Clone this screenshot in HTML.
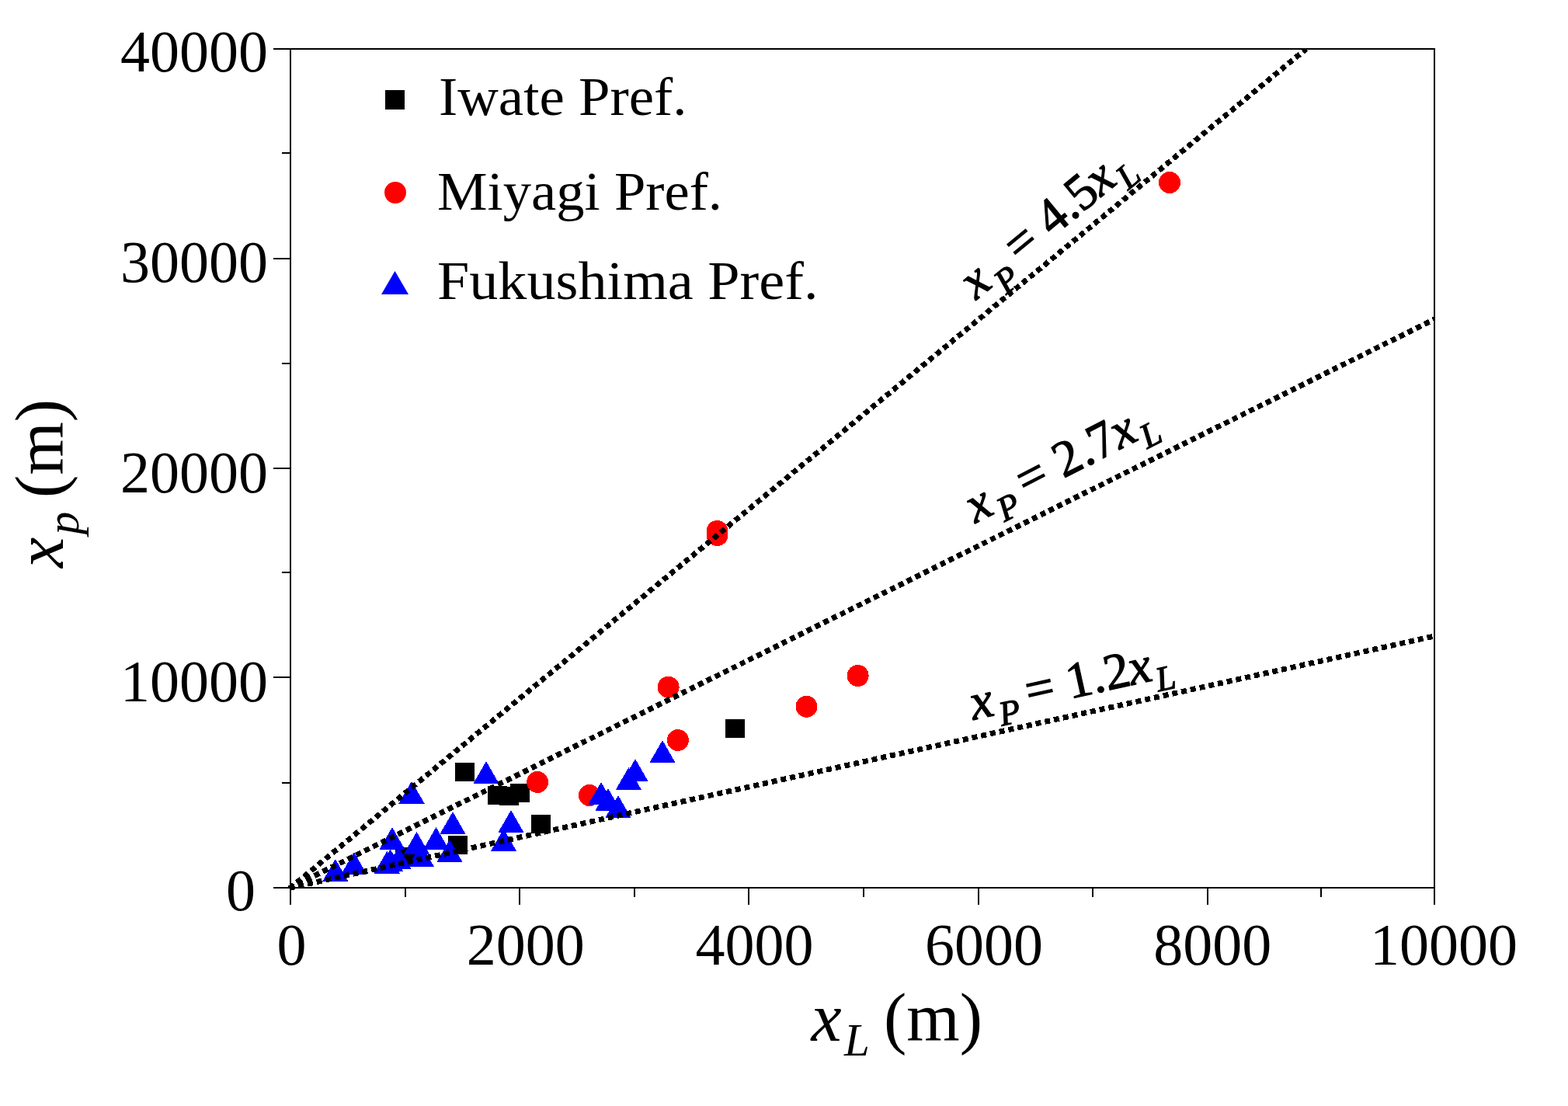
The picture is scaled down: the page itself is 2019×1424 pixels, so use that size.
<!DOCTYPE html>
<html><head><meta charset="utf-8"><title>x_p vs x_L</title>
<style>html,body{margin:0;padding:0;background:#fff;overflow:hidden;} svg{display:block;}</style></head>
<body><svg width="2019" height="1424" viewBox="0 0 2019 1424">
<rect width="2019" height="1424" fill="#fff"/>
<g fill="#000" shape-rendering="crispEdges"><rect x="586.00" y="982.00" width="25.0" height="24.0"/><rect x="628.00" y="1012.00" width="25.0" height="24.0"/><rect x="642.90" y="1013.00" width="25.0" height="24.0"/><rect x="656.50" y="1009.00" width="25.0" height="24.0"/><rect x="683.50" y="1049.00" width="25.0" height="24.0"/><rect x="577.00" y="1076.40" width="25.0" height="24.0"/><rect x="934.00" y="926.40" width="25.0" height="24.0"/><rect x="509.00" y="1091.00" width="25.0" height="24.0"/></g>
<g fill="#ff0000" shape-rendering="crispEdges"><circle cx="1506.00" cy="235.00" r="14.0"/><circle cx="923.50" cy="684.00" r="14.0"/><circle cx="923.50" cy="689.00" r="14.0"/><circle cx="860.60" cy="884.80" r="14.0"/><circle cx="872.80" cy="953.00" r="14.0"/><circle cx="1104.60" cy="870.00" r="14.0"/><circle cx="1038.50" cy="909.80" r="14.0"/><circle cx="692.10" cy="1007.00" r="14.0"/><circle cx="759.00" cy="1024.00" r="14.0"/></g>
<g fill="#0000ff" shape-rendering="crispEdges"><polygon points="431.80,1106.00 448.45,1135.00 415.15,1135.00"/><polygon points="455.80,1097.00 472.45,1126.00 439.15,1126.00"/><polygon points="498.30,1095.70 514.95,1124.70 481.65,1124.70"/><polygon points="502.50,1093.10 519.15,1122.10 485.85,1122.10"/><polygon points="513.30,1090.30 529.95,1119.30 496.65,1119.30"/><polygon points="505.00,1065.00 521.65,1094.00 488.35,1094.00"/><polygon points="530.00,1005.70 546.65,1034.70 513.35,1034.70"/><polygon points="536.50,1071.00 553.15,1100.00 519.85,1100.00"/><polygon points="542.20,1086.80 558.85,1115.80 525.55,1115.80"/><polygon points="561.50,1065.00 578.15,1094.00 544.85,1094.00"/><polygon points="583.00,1045.00 599.65,1074.00 566.35,1074.00"/><polygon points="579.00,1081.00 595.65,1110.00 562.35,1110.00"/><polygon points="626.00,980.00 642.65,1009.00 609.35,1009.00"/><polygon points="658.00,1043.00 674.65,1072.00 641.35,1072.00"/><polygon points="648.50,1067.00 665.15,1096.00 631.85,1096.00"/><polygon points="774.00,1007.00 790.65,1036.00 757.35,1036.00"/><polygon points="783.00,1015.00 799.65,1044.00 766.35,1044.00"/><polygon points="796.00,1024.00 812.65,1053.00 779.35,1053.00"/><polygon points="818.00,977.00 834.65,1006.00 801.35,1006.00"/><polygon points="809.40,988.00 826.05,1017.00 792.75,1017.00"/><polygon points="853.00,953.00 869.65,982.00 836.35,982.00"/></g>
<defs><clipPath id="cl"><rect x="0" y="63" width="2019" height="1361"/></clipPath></defs><g clip-path="url(#cl)" shape-rendering="crispEdges">
<line x1="372.84" y1="1143.96" x2="1681.76" y2="63.00" stroke="#000" stroke-width="7.0" stroke-dasharray="7 5"/>
<line x1="372.66" y1="1143.67" x2="1847.00" y2="411.03" stroke="#000" stroke-width="7.0" stroke-dasharray="7 5"/>
<line x1="372.54" y1="1143.32" x2="1847.00" y2="819.00" stroke="#000" stroke-width="7.0" stroke-dasharray="7 5"/>
</g>
<rect x="374.0" y="63.0" width="1473.0" height="1080.0" fill="none" stroke="#000" stroke-width="2"/>
<path d="M352.0,1143H374.0M363.0,1008H374.0M352.0,872H374.0M363.0,737H374.0M352.0,603H374.0M363.0,468H374.0M352.0,333H374.0M363.0,197H374.0M352.0,63H374.0M374,1143.0V1165.0M522,1143.0V1155.0M669,1143.0V1165.0M817,1143.0V1155.0M964,1143.0V1165.0M1112,1143.0V1155.0M1260,1143.0V1165.0M1407,1143.0V1155.0M1555,1143.0V1165.0M1701,1143.0V1155.0M1847,1143.0V1165.0" stroke="#000" stroke-width="2" fill="none"/>
<text x="345" y="92.4" text-anchor="end" style="font-family:'Liberation Serif', 'Times New Roman', serif;font-size:76px">40000</text>
<text x="345" y="363.4" text-anchor="end" style="font-family:'Liberation Serif', 'Times New Roman', serif;font-size:76px">30000</text>
<text x="345" y="633.6" text-anchor="end" style="font-family:'Liberation Serif', 'Times New Roman', serif;font-size:76px">20000</text>
<text x="345" y="902.9" text-anchor="end" style="font-family:'Liberation Serif', 'Times New Roman', serif;font-size:76px">10000</text>
<text x="329" y="1172.4" text-anchor="end" style="font-family:'Liberation Serif', 'Times New Roman', serif;font-size:76px">0</text>
<text x="375.6" y="1241.5" text-anchor="middle" style="font-family:'Liberation Serif', 'Times New Roman', serif;font-size:76px">0</text>
<text x="676.8" y="1241.5" text-anchor="middle" style="font-family:'Liberation Serif', 'Times New Roman', serif;font-size:76px">2000</text>
<text x="971.5" y="1241.5" text-anchor="middle" style="font-family:'Liberation Serif', 'Times New Roman', serif;font-size:76px">4000</text>
<text x="1266.9" y="1241.5" text-anchor="middle" style="font-family:'Liberation Serif', 'Times New Roman', serif;font-size:76px">6000</text>
<text x="1561.3" y="1241.5" text-anchor="middle" style="font-family:'Liberation Serif', 'Times New Roman', serif;font-size:76px">8000</text>
<text x="1859" y="1241.5" text-anchor="middle" style="font-family:'Liberation Serif', 'Times New Roman', serif;font-size:76px">10000</text>
<text style="font-family:'Liberation Serif', 'Times New Roman', serif;font-size:88px"><tspan x="1044.4" y="1339.6" font-style="italic">x</tspan><tspan x="1087" y="1358.9" font-size="59" font-style="italic">L</tspan><tspan x="1138" y="1339.6">(m)</tspan></text>
<text transform="translate(81.1,732.1) rotate(-90)" style="font-family:'Liberation Serif', 'Times New Roman', serif;font-size:88px"><tspan x="1" y="0" font-style="italic">x</tspan><tspan x="43.9" y="20" font-size="59" font-style="italic">p</tspan><tspan x="91.2" y="0">(m)</tspan></text>
<rect fill="#000" x="496.00" y="116.00" width="25" height="25"/>
<circle cx="509" cy="248" r="14" fill="#ff0000"/>
<polygon fill="#0000ff" points="508.50,349.00 526.00,379.00 491.00,379.00"/>
<text x="565" y="148" textLength="319.5" lengthAdjust="spacingAndGlyphs" style="font-family:'Liberation Serif', 'Times New Roman', serif;font-size:70px">Iwate Pref.</text>
<text x="563" y="270" textLength="367" lengthAdjust="spacingAndGlyphs" style="font-family:'Liberation Serif', 'Times New Roman', serif;font-size:70px">Miyagi Pref.</text>
<text x="563" y="384.8" textLength="490.5" lengthAdjust="spacingAndGlyphs" style="font-family:'Liberation Serif', 'Times New Roman', serif;font-size:70px">Fukushima Pref.</text>
<text transform="translate(1256.9,386.7) rotate(-39.51742335303551)" stroke="#000" stroke-width="1.2" style="font-family:'Liberation Serif', 'Times New Roman', serif;font-size:66px"><tspan font-style="italic">x</tspan><tspan font-style="italic" font-size="44.9" dx="4.7" dy="19.5">P</tspan><tspan dx="-4.7" dy="-19.5"> =</tspan><tspan dx="0.4"> 4.5</tspan><tspan font-style="italic" dx="-1.2">x</tspan><tspan font-style="italic" font-size="44.9" dx="2.7" dy="15.5">L</tspan></text>
<text transform="translate(1256,674) rotate(-27.1)" stroke="#000" stroke-width="1.2" style="font-family:'Liberation Serif', 'Times New Roman', serif;font-size:66px"><tspan font-style="italic">x</tspan><tspan font-style="italic" font-size="44.9" dx="4.7" dy="15.5">P</tspan><tspan dx="-4.7" dy="-15.5"> =</tspan><tspan dx="0.4"> 2.7</tspan><tspan font-style="italic" dx="-1.2">x</tspan><tspan font-style="italic" font-size="44.9" dx="2.7" dy="15.5">L</tspan></text>
<text transform="translate(1253.5,927) rotate(-12.405192411172434)" stroke="#000" stroke-width="1.2" style="font-family:'Liberation Serif', 'Times New Roman', serif;font-size:66px"><tspan font-style="italic">x</tspan><tspan font-style="italic" font-size="44.9" dx="4.7" dy="15.5">P</tspan><tspan dx="-4.7" dy="-15.5"> =</tspan><tspan dx="0.4"> 1.2</tspan><tspan font-style="italic" dx="-1.2">x</tspan><tspan font-style="italic" font-size="44.9" dx="2.7" dy="15.5">L</tspan></text>
</svg></body></html>
